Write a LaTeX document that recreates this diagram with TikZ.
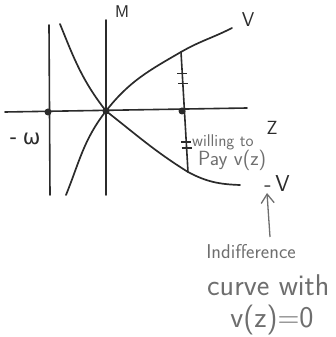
\documentclass[tikz,border=0pt]{standalone}
\usepackage{fontspec}
\newfontfamily\greekhand{DejaVu Sans}
\usepackage{tikz}
\usetikzlibrary{positioning,arrows.meta,calc}
\definecolor{inkDark}{HTML}{2B2B2B}
\definecolor{inkPencil}{HTML}{6E6E6E}

\begin{document}
\begin{tikzpicture}[
  x=1pt, y=1pt,
  font=\sffamily,
  >={Straight Barb[length=9pt,width=13pt]},
  %% Line styles
  axis/.style={line width=1.6pt, color=inkDark, line cap=round},
  curve/.style={line width=1.7pt, color=inkDark, line cap=round},
  tick/.style={line width=1.1pt, color=inkDark},
  upArrow/.style={->, line width=1.3pt, color=inkPencil},
  %% Node styles
  dot/.style={circle, fill=inkDark, inner sep=0pt, minimum size=7pt},
  axlabel/.style={text=inkDark, inner sep=1pt, font=\fontsize{19}{19}\sffamily\selectfont},
  note/.style={text=inkPencil, inner sep=0pt},
]
\useasboundingbox (0,0) rectangle (335,337);

%% ── Axes ───────────────────────────────────────────────────────────────────
\coordinate (zleft)  at (5,225);
\coordinate (zright) at (247,229);
\coordinate (mtop)   at (106,317);
\coordinate (mbot)   at (106,142);
\coordinate (wtop)   at (49,312);
\coordinate (wbot)   at (50,142);

\draw[axis] (zleft) -- (zright);
\draw[axis] (mbot)  -- (mtop);
\draw[axis] (wbot)  -- (wtop);

%% ── Points on the z axis ───────────────────────────────────────────────────
\node[dot] (origin) at (106,226) {};
\node[dot] (wdot)   at (48,225) {};
\node[dot] (zdot)   at (182,226) {};

%% ── Curves V and -V ────────────────────────────────────────────────────────
\coordinate (vlow) at (66,142);
\coordinate (vz)   at (181,285);
\coordinate (vtop) at (232,309);
\coordinate (ntop) at (60,313);
\coordinate (nz)   at (188,165);
\coordinate (nend) at (240,152);

\draw[curve] (vlow) to[out=68,in=232] (origin.center)
             to[out=52,in=210] (vz) to[out=30,in=207] (vtop);
\draw[curve] (ntop) to[out=-68,in=128] (origin.center)
             to[out=-38,in=148] (nz) to[out=-28,in=178] (nend);

%% ── Willingness to pay ─────────────────────────────────────────────────────
\draw[axis] (vz) -- (nz);
\path (vz) -- (nz)
  coordinate[pos=0.18] (t1) coordinate[pos=0.26] (t2)
  coordinate[pos=0.75] (t3) coordinate[pos=0.80] (t4);
\foreach \t in {t1,t2,t3,t4}
  \draw[tick] ($(\t)+(-5,0)$) -- ($(\t)+(5,0)$);

%% ── Labels ─────────────────────────────────────────────────────────────────
\node[axlabel, font=\fontsize{17}{17}\sffamily\selectfont] (mlab) at (122,325) {M};
\node[axlabel, font=\fontsize{20}{20}\sffamily\selectfont] (vlab) at (248,317) {V};
\node[axlabel] (zlab) at (272,209) {Z};
\node[axlabel, font=\fontsize{21}{21}\greekhand\selectfont] (wlab) at (25,198) {-\hspace{6pt}ω};
\node[axlabel, font=\fontsize{23}{23}\sffamily\selectfont] (nlab) at (277,153) {-\,V};

\node[note, anchor=west, font=\fontsize{17}{17}\sffamily\selectfont] (willing) at (192,195) {willing to};
\node[note, anchor=west, font=\fontsize{20.5}{20.5}\sffamily\selectfont] (pay) at (198,177) {Pay v(z)};

%% ── Indifference note ──────────────────────────────────────────────────────
\coordinate (arrowfoot) at (270,100);
\draw[upArrow] (arrowfoot) -- (267,144);
\node[note, font=\fontsize{20}{20}\sffamily\selectfont] (indiff) at (251,85) {Indifference};
\node[note, font=\fontsize{30}{30}\sffamily\selectfont, anchor=west] (curvewith) at (207,52) {curve with};
\node[note, font=\fontsize{30}{30}\sffamily\selectfont] (vzero) at (272,17) {v(z)=0};

\end{tikzpicture}
\end{document}
